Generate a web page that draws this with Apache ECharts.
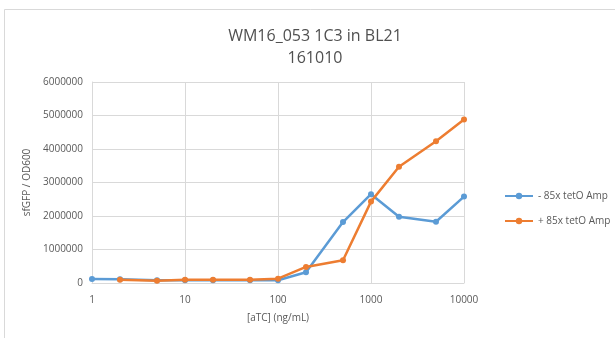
<!DOCTYPE html>
<html>
<head>
<meta charset="utf-8">
<script src="https://cdn.jsdelivr.net/npm/echarts@6/dist/echarts.min.js"></script>
<style>
  html, body { margin: 0; padding: 0; background: #fff; }
  #chart { width: 615px; height: 338px; }
</style>
</head>
<body>
<div id="chart"></div>
<script>
// aTC concentrations (ng/mL)
const concMinus = [1, 2, 5, 10, 20, 50, 100, 200, 500, 1000, 2000, 5000, 10000];
const concPlus = [2, 5, 10, 20, 50, 100, 200, 500, 1000, 2000, 5000, 10000];
// sfGFP / OD600 readings
const minusTetO = [120000, 110000, 80000, 80000, 80000, 80000, 80000, 320000, 1820000, 2650000, 1980000, 1830000, 2580000];
const plusTetO = [100000, 70000, 100000, 100000, 100000, 130000, 480000, 680000, 2430000, 3470000, 4230000, 4880000];
const seriesNames = ['- 85x tetO Amp', '+ 85x tetO Amp'];

const textColor = '#595959';
const gridColor = '#d9d9d9';

const chart = echarts.init(document.getElementById('chart'));
chart.setOption({
  animation: false,
  backgroundColor: '#fff',
  title: {
    text: 'WM16_053 1C3 in BL21\n161010',
    left: 310,
    top: 20,
    textAlign: 'center',
    textStyle: { fontFamily: 'Open Sans', fontSize: 16, fontWeight: 'normal', color: '#505050', lineHeight: 22 }
  },
  graphic: [{
    type: 'rect',
    shape: { x: 4.5, y: 9.5, width: 640, height: 340 },
    style: { fill: 'none', stroke: '#d9d9d9', lineWidth: 1 },
    silent: true
  }],
  grid: { left: 92, right: 151, top: 82, bottom: 55 },
  legend: {
    orient: 'vertical',
    left: 499,
    top: 186,
    itemGap: 15,
    itemWidth: 28,
    itemHeight: 8,
    textStyle: { fontFamily: 'Open Sans', fontSize: 10, color: textColor },
    data: seriesNames
  },
  xAxis: {
    type: 'log',
    logBase: 10,
    min: 1,
    max: 10000,
    name: '[aTC] (ng/mL)',
    nameLocation: 'middle',
    nameGap: 30,
    nameTextStyle: { fontFamily: 'Open Sans', fontSize: 10, color: textColor },
    axisLine: { show: true, lineStyle: { color: gridColor } },
    axisTick: { show: false },
    axisLabel: { fontFamily: 'Open Sans', fontSize: 10, color: textColor, margin: 12, formatter: v => String(v) },
    splitLine: { show: true, lineStyle: { color: gridColor } },
    minorTick: { show: false }
  },
  yAxis: {
    type: 'value',
    min: 0,
    max: 6000000,
    interval: 1000000,
    name: 'sfGFP / OD600',
    nameLocation: 'middle',
    nameGap: 52,
    nameTextStyle: { fontFamily: 'Open Sans', fontSize: 10, color: textColor },
    axisLine: { show: true, lineStyle: { color: gridColor } },
    axisTick: { show: false },
    axisLabel: { fontFamily: 'Open Sans', fontSize: 10, color: textColor, margin: 9, formatter: v => String(v) },
    splitLine: { show: true, lineStyle: { color: gridColor } }
  },
  series: [
    {
      name: seriesNames[0],
      type: 'line',
      data: concMinus.map((c, i) => [c, minusTetO[i]]),
      symbol: 'circle',
      symbolSize: 6,
      color: '#5B9BD5',
      lineStyle: { width: 2.5 },
      z: 2
    },
    {
      name: seriesNames[1],
      type: 'line',
      data: concPlus.map((c, i) => [c, plusTetO[i]]),
      symbol: 'circle',
      symbolSize: 6,
      color: '#ED7D31',
      lineStyle: { width: 2.5 },
      z: 3
    }
  ]
});
</script>
</body>
</html>
